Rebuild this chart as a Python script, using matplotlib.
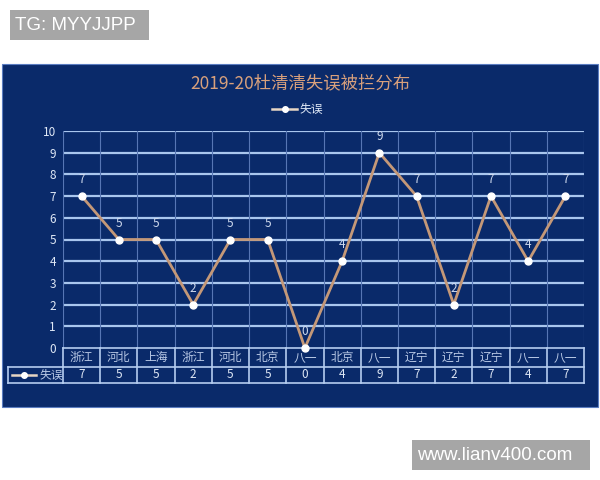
import matplotlib
matplotlib.use("Agg")
import matplotlib.pyplot as plt
from matplotlib.patches import Rectangle
from matplotlib.lines import Line2D
import matplotlib.transforms as mtransforms

plt.rcParams['font.family'] = ['Noto Sans CJK SC', 'DejaVu Sans']

# data
teams = ['浙江', '河北', '上海', '浙江', '河北', '北京', '八一',
         '北京', '八一', '辽宁', '辽宁', '辽宁', '八一', '八一']
errors = [7, 5, 5, 2, 5, 5, 0, 4, 9, 7, 2, 7, 4, 7]
series_name = '失误'
title = '2019-20杜清清失误被拦分布'

W, H = 600, 480
panel_col = '#0a2a6a'
line_col = '#c49878'
grid_col = '#a9c6ee'
text_col = '#dfe8f6'


def fx(px):
    return px / W


def fy(py):
    return 1 - py / H


fig = plt.figure(figsize=(6, 4.8), dpi=100)
fig.patch.set_facecolor('white')

# dark panel behind the chart
fig.patches.append(Rectangle((fx(2), fy(407)), fx(596), (407 - 64) / H,
                             transform=fig.transFigure, facecolor=panel_col,
                             edgecolor='#5a7cc0', lw=0.8, zorder=-1))

left, right, top, bottom = 63, 584, 131, 348
ax = fig.add_axes([fx(left), fy(bottom), (right - left) / W, (bottom - top) / H])
ax.set_facecolor(panel_col)
for s in ax.spines.values():
    s.set_visible(False)

x = list(range(len(teams)))
ax.set_xlim(-0.5, len(teams) - 0.5)
ax.set_ylim(0, 10)
ax.set_yticks(range(0, 11))
ax.tick_params(axis='y', colors=text_col, labelsize=8.5, length=0, pad=5)
ax.set_xticks([])

# grid
for v in range(1, 11):
    ax.axhline(v, color=grid_col, lw=1.6, zorder=1)
for i in range(len(teams) + 1):
    ax.axvline(i - 0.5, color='#5776b4', lw=0.8, zorder=1)

ln, = ax.plot(x, errors, color=line_col, lw=2, marker='o', markersize=5,
              markerfacecolor='white', markeredgecolor='white', zorder=3,
              clip_on=False)
for xi, v in zip(x, errors):
    ax.annotate(str(v), (xi, v), xytext=(0, 7), textcoords='offset points',
                ha='center', va='bottom', color='#cfdaee', fontsize=8.5,
                zorder=4)

# data table under the axis
blend = mtransforms.blended_transform_factory(ax.transData, ax.transAxes)
h_ax = bottom - top
r1 = -19 / h_ax
r2 = -35 / h_ax
tbl_col = '#b5cdf0'
for yy in (0, r1, r2):
    ax.plot([-0.5, len(teams) - 0.5], [yy, yy], color=tbl_col, lw=1.2,
            transform=blend, clip_on=False)
for i in range(len(teams) + 1):
    ax.plot([i - 0.5, i - 0.5], [0, r2], color=tbl_col, lw=1.2,
            transform=blend, clip_on=False)
for xi, t, v in zip(x, teams, errors):
    ax.text(xi, r1 / 2, t, transform=blend, ha='center', va='center',
            color='#b9c9e6', fontsize=8.5)
    ax.text(xi, (r1 + r2) / 2, str(v), transform=blend, ha='center',
            va='center', color=text_col, fontsize=8.5)

# legend cell of the table
lx0 = fx(8)
lx1 = fx(left)
ly0 = fy(383)
ly1 = fy(367)
for seg in ([lx0, lx1], [ly1, ly1]), ([lx0, lx1], [ly0, ly0]), ([lx0, lx0], [ly0, ly1]):
    fig.add_artist(Line2D(seg[0], seg[1], color=tbl_col, lw=1.2,
                          transform=fig.transFigure))
fig.add_artist(Line2D([fx(12), fx(36)], [fy(375), fy(375)], color='#e8d6c4',
                      lw=1.8, transform=fig.transFigure))
fig.add_artist(Line2D([fx(24)], [fy(375)], color='white', marker='o',
                      markersize=4, transform=fig.transFigure))
fig.text(fx(40), fy(375), series_name, ha='left', va='center',
         color='#b9c9e6', fontsize=8.5)

# title and legend
fig.text(0.5, fy(83), title, ha='center', va='center', color='#d8a07c',
         fontsize=12.5)
fig.add_artist(Line2D([fx(272), fx(297)], [fy(109), fy(109)],
                      color='#e8d6c4', lw=1.8, transform=fig.transFigure))
fig.add_artist(Line2D([fx(284.5)], [fy(109)], color='white', marker='o',
                      markersize=4, transform=fig.transFigure))
fig.text(fx(300), fy(109), series_name, ha='left', va='center',
         color=text_col, fontsize=8.5)

# watermarks
fig.patches.append(Rectangle((fx(10), fy(40)), fx(139), 30 / H,
                             transform=fig.transFigure, facecolor='#a6a6a6',
                             edgecolor='none', zorder=5))
fig.text(fx(15), fy(25), 'TG: MYYJJPP', ha='left', va='center',
         color='white', fontsize=13.5, family='Liberation Sans', zorder=6)
fig.patches.append(Rectangle((fx(412), fy(470)), fx(178), 30 / H,
                             transform=fig.transFigure, facecolor='#a6a6a6',
                             edgecolor='none', zorder=5))
fig.text(fx(417), fy(455), 'www.lianv400.com', ha='left', va='center',
         color='white', fontsize=13.5, family='Liberation Sans', zorder=6)

fig.savefig('out.png', dpi=100, facecolor='white')
